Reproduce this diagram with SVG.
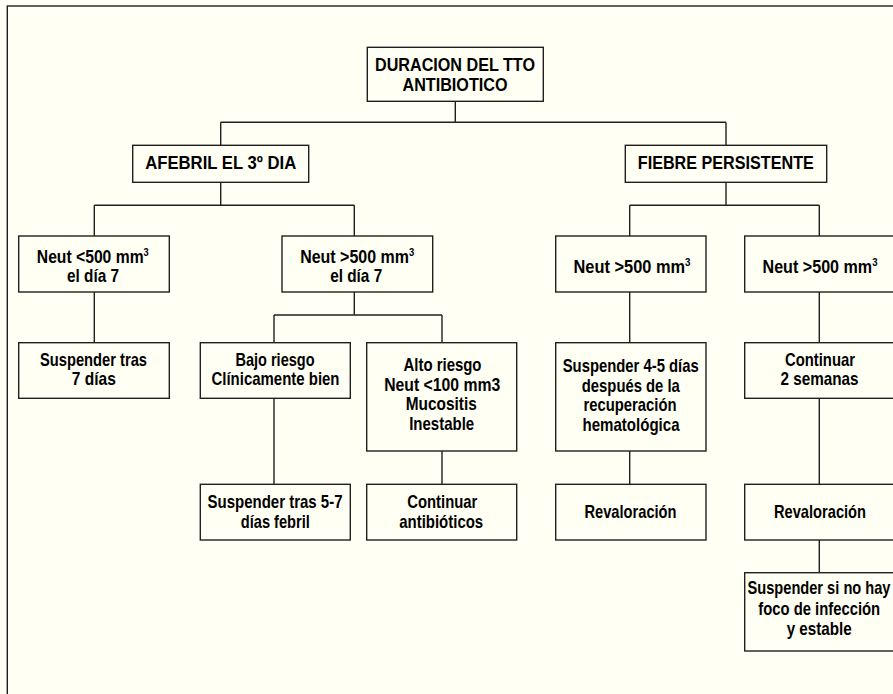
<svg xmlns="http://www.w3.org/2000/svg" width="893" height="694" viewBox="0 0 893 694">
<style>
.bg{fill:#FFFFF3}
.frame{fill:#FFFFF3;stroke:#231F20;stroke-width:1.4}
.box{fill:#FFFFF3;stroke:#231F20;stroke-width:1.4}
.ln{fill:none;stroke:#231F20;stroke-width:1.4}
text{font-family:"Liberation Sans",Arial,sans-serif;font-weight:bold;font-size:18.5px;fill:#000;text-anchor:middle}
.sup{font-size:11px}
</style>
<rect class="bg" x="0" y="0" width="893" height="694"/>
<rect class="frame" x="7.3" y="6" width="900" height="700"/>
<g id="connectors">
<path class="ln" d="M455.3,101.3V122.3M220.7,122.3H726M220.7,122.3V145.3M726,122.3V145.3"/>
<path class="ln" d="M220.7,182.3V205.3M94.3,205.3H354.3M94.3,205.3V236M354.3,205.3V236"/>
<path class="ln" d="M726,182.3V205.3M629.7,205.3H819.3M629.7,205.3V236M819.3,205.3V236"/>
<path class="ln" d="M94.3,292V342.7"/>
<path class="ln" d="M354.3,292V315M274,315H442M274,315V342.7M442,315V342.7"/>
<path class="ln" d="M274,398.3V484.3M442,451V484.3"/>
<path class="ln" d="M629.7,292V342.7M629.7,451V484.3"/>
<path class="ln" d="M819.3,292V342.7M819.3,398.3V484.3M819.3,540V572.7"/>
</g>
<g id="n_root"><rect class="box" x="367.3" y="47.3" width="176" height="54"/>
<text x="455" y="70.7" textLength="160" lengthAdjust="spacingAndGlyphs">DURACION DEL TTO</text>
<text x="455" y="90.7" textLength="105" lengthAdjust="spacingAndGlyphs">ANTIBIOTICO</text></g>
<g id="n_afebril"><rect class="box" x="132.7" y="145.3" width="176" height="37"/>
<text x="220.7" y="169.3" textLength="151" lengthAdjust="spacingAndGlyphs">AFEBRIL EL 3º DIA</text></g>
<g id="n_fiebre"><rect class="box" x="625.3" y="145.3" width="201.4" height="37"/>
<text x="725.8" y="169.3" textLength="176" lengthAdjust="spacingAndGlyphs">FIEBRE PERSISTENTE</text></g>
<g id="n_neut_lt500"><rect class="box" x="18.7" y="236" width="150.6" height="56"/>
<text x="92.8" y="263.3" textLength="112" lengthAdjust="spacingAndGlyphs">Neut &lt;500 mm<tspan class="sup" dy="-7">3</tspan></text>
<text x="93" y="282.3" textLength="52" lengthAdjust="spacingAndGlyphs">el día 7</text></g>
<g id="n_neut_gt500_d7"><rect class="box" x="282" y="236" width="150.7" height="56"/>
<text x="357.2" y="263.3" textLength="114" lengthAdjust="spacingAndGlyphs">Neut &gt;500 mm<tspan class="sup" dy="-7">3</tspan></text>
<text x="356.2" y="282.3" textLength="52" lengthAdjust="spacingAndGlyphs">el día 7</text></g>
<g id="n_neut_gt500_a"><rect class="box" x="555.7" y="236" width="150.3" height="56"/>
<text x="632" y="272.7" textLength="117" lengthAdjust="spacingAndGlyphs">Neut &gt;500 mm<tspan class="sup" dy="-7">3</tspan></text></g>
<g id="n_neut_gt500_b"><rect class="box" x="744.7" y="236" width="150.3" height="56"/>
<text x="820" y="272.7" textLength="115" lengthAdjust="spacingAndGlyphs">Neut &gt;500 mm<tspan class="sup" dy="-7">3</tspan></text></g>
<g id="n_susp7"><rect class="box" x="18.7" y="342.7" width="150.6" height="55.6"/>
<text x="93.5" y="366" textLength="107" lengthAdjust="spacingAndGlyphs">Suspender tras</text>
<text x="93.8" y="385.3" textLength="44" lengthAdjust="spacingAndGlyphs">7 días</text></g>
<g id="n_bajo"><rect class="box" x="200.3" y="342.7" width="150" height="55.6"/>
<text x="275" y="366" textLength="79" lengthAdjust="spacingAndGlyphs">Bajo riesgo</text>
<text x="275.5" y="385.3" textLength="128" lengthAdjust="spacingAndGlyphs">Clínicamente bien</text></g>
<g id="n_alto"><rect class="box" x="366.7" y="342.7" width="150" height="108.3"/>
<text x="442.5" y="371" textLength="78" lengthAdjust="spacingAndGlyphs">Alto riesgo</text>
<text x="442.2" y="390.7" textLength="116" lengthAdjust="spacingAndGlyphs">Neut &lt;100 mm3</text>
<text x="441.3" y="410.3" textLength="71" lengthAdjust="spacingAndGlyphs">Mucositis</text>
<text x="441.7" y="429.7" textLength="65" lengthAdjust="spacingAndGlyphs">Inestable</text></g>
<g id="n_susp45"><rect class="box" x="555.7" y="342.7" width="150.3" height="108.3"/>
<text x="630.7" y="371.7" textLength="136" lengthAdjust="spacingAndGlyphs">Suspender 4-5 días</text>
<text x="630.8" y="391.7" textLength="98" lengthAdjust="spacingAndGlyphs">después de la</text>
<text x="630" y="411.3" textLength="93" lengthAdjust="spacingAndGlyphs">recuperación</text>
<text x="631" y="431" textLength="97" lengthAdjust="spacingAndGlyphs">hematológica</text></g>
<g id="n_cont2"><rect class="box" x="744.7" y="342.7" width="150.3" height="55.6"/>
<text x="820" y="366" textLength="70" lengthAdjust="spacingAndGlyphs">Continuar</text>
<text x="819.5" y="385.3" textLength="78" lengthAdjust="spacingAndGlyphs">2 semanas</text></g>
<g id="n_susp57"><rect class="box" x="200.3" y="484.3" width="150" height="55.7"/>
<text x="275" y="508.3" textLength="135" lengthAdjust="spacingAndGlyphs">Suspender tras 5-7</text>
<text x="275.3" y="528.3" textLength="69" lengthAdjust="spacingAndGlyphs">días febril</text></g>
<g id="n_contab"><rect class="box" x="366.7" y="484.3" width="150" height="55.7"/>
<text x="442.3" y="508.3" textLength="70" lengthAdjust="spacingAndGlyphs">Continuar</text>
<text x="441.2" y="528.3" textLength="84" lengthAdjust="spacingAndGlyphs">antibióticos</text></g>
<g id="n_reval_a"><rect class="box" x="555.7" y="484.3" width="150.3" height="55.7"/>
<text x="630.5" y="518.3" textLength="92" lengthAdjust="spacingAndGlyphs">Revaloración</text></g>
<g id="n_reval_b"><rect class="box" x="744.7" y="484.3" width="150.3" height="55.7"/>
<text x="820" y="518.3" textLength="92" lengthAdjust="spacingAndGlyphs">Revaloración</text></g>
<g id="n_suspsi"><rect class="box" x="744.7" y="572.7" width="150.3" height="78.3"/>
<text x="819" y="594" textLength="143" lengthAdjust="spacingAndGlyphs">Suspender si no hay</text>
<text x="819.2" y="615" textLength="122" lengthAdjust="spacingAndGlyphs">foco de infección</text>
<text x="819.2" y="635" textLength="65" lengthAdjust="spacingAndGlyphs">y estable</text></g>
</svg>
